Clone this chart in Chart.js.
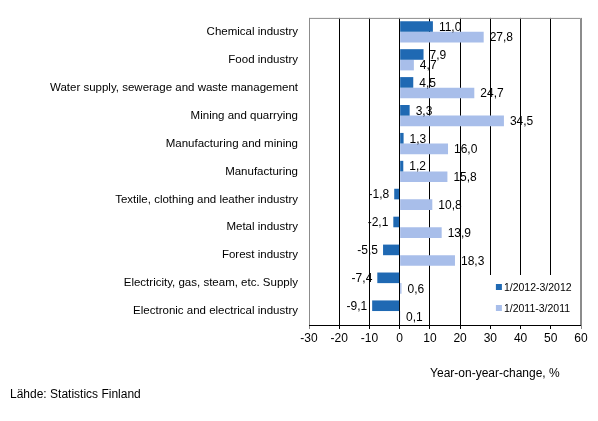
<!DOCTYPE html>
<html>
<head>
<meta charset="utf-8">
<script src="https://cdn.jsdelivr.net/npm/chart.js@4.4.1/dist/chart.umd.min.js"></script>
<style>
html,body{margin:0;padding:0;background:#fff;}
#wrap{width:598px;height:421px;position:relative;}
</style>
</head>
<body>
<div id="wrap"><canvas id="c" width="598" height="421"></canvas></div>
<script>
const categories = [
  "Chemical industry",
  "Food industry",
  "Water supply, sewerage and waste management",
  "Mining and quarrying",
  "Manufacturing and mining",
  "Manufacturing",
  "Textile, clothing and leather industry",
  "Metal industry",
  "Forest industry",
  "Electricity, gas, steam, etc. Supply",
  "Electronic and electrical industry"
];
const series2012 = [11.0, 7.9, 4.5, 3.3, 1.3, 1.2, -1.8, -2.1, -5.5, -7.4, -9.1];
const series2011 = [27.8, 4.7, 24.7, 34.5, 16.0, 15.8, 10.8, 13.9, 18.3, 0.6, 0.1];
const seriesNames = ["1/2012-3/2012", "1/2011-3/2011"];
const xMin = -30, xMax = 60, xStep = 10;
const axisTitle = "Year-on-year-change, %";
const sourceText = "Lähde: Statistics Finland";

const darkColor = "#1F69B3";
const lightColor = "#A8BEEA";
const FONT = "'Liberation Sans', Arial, sans-serif";

const fmt = v => v.toFixed(1).replace('.', ',');

const customPlugin = {
  id: 'custom',
  beforeDatasetsDraw(chart) {
    const ctx = chart.ctx, ca = chart.chartArea, xs = chart.scales.x;
    ctx.save();
    ctx.fillStyle = '#fff';
    const lx = xs.getPixelForValue(28.2);
    ctx.fillRect(lx, ca.bottom - 50, ca.right - lx, 50);
    ctx.restore();
  },
  afterDatasetsDraw(chart) {
    const ctx = chart.ctx;
    ctx.save();
    ctx.font = "12px " + FONT;
    ctx.fillStyle = '#000';
    ctx.textBaseline = 'middle';
    chart.data.datasets.forEach((ds, di) => {
      const meta = chart.getDatasetMeta(di);
      meta.data.forEach((bar, i) => {
        const v = ds.data[i];
        const t = fmt(v);
        if (v >= 0) {
          ctx.textAlign = 'left';
          ctx.fillText(t, bar.x + 6, bar.y + 1);
        } else {
          ctx.textAlign = 'right';
          ctx.fillText(t, bar.x - 5, bar.y + 1);
        }
      });
    });
    ctx.restore();
  },
  afterDraw(chart) {
    const ctx = chart.ctx, ca = chart.chartArea, xs = chart.scales.x;
    ctx.save();
    ctx.strokeStyle = '#8c8c8c';
    ctx.lineWidth = 1;
    ctx.beginPath();
    ctx.moveTo(ca.left + 0.5, ca.bottom);
    ctx.lineTo(ca.left + 0.5, ca.top + 0.5);
    ctx.lineTo(ca.right - 0.5, ca.top + 0.5);
    ctx.lineTo(ca.right - 0.5, ca.bottom);
    ctx.stroke();
    ctx.strokeStyle = '#000';
    ctx.beginPath();
    ctx.moveTo(ca.left, ca.bottom + 0.5);
    ctx.lineTo(ca.right, ca.bottom + 0.5);
    ctx.stroke();
    const lx = xs.getPixelForValue(28.2);
    const colors = [darkColor, lightColor];
    ctx.font = "10.5px " + FONT;
    ctx.textBaseline = 'middle';
    ctx.textAlign = 'left';
    seriesNames.forEach((n, i) => {
      const y = ca.bottom - 38 + i * 21;
      ctx.fillStyle = colors[i];
      ctx.fillRect(lx + 11, y - 3, 6, 6);
      ctx.fillStyle = '#000';
      ctx.fillText(n, lx + 19, y + 1);
    });
    ctx.font = "12px " + FONT;
    ctx.fillStyle = '#000';
    ctx.textAlign = 'center';
    ctx.fillText(axisTitle, xs.getPixelForValue(31.5), ca.bottom + 49);
    ctx.textAlign = 'left';
    ctx.fillText(sourceText, 10, ca.bottom + 70);
    ctx.restore();
  }
};

new Chart(document.getElementById('c'), {
  type: 'bar',
  data: {
    labels: categories,
    datasets: [
      { label: seriesNames[0], data: series2012, backgroundColor: darkColor, barPercentage: 1.0, categoryPercentage: 0.76 },
      { label: seriesNames[1], data: series2011, backgroundColor: lightColor, barPercentage: 1.0, categoryPercentage: 0.76 }
    ]
  },
  options: {
    indexAxis: 'y',
    responsive: false,
    animation: false,
    devicePixelRatio: 1,
    layout: { padding: { top: 17, right: 17, left: 0, bottom: 0 } },
    plugins: { legend: { display: false }, tooltip: { enabled: false } },
    scales: {
      x: {
        min: xMin, max: xMax,
        ticks: { stepSize: xStep, color: '#000', font: { family: FONT, size: 12 }, padding: 2 },
        grid: {
          color: ctx => (ctx.tick && (ctx.tick.value === xMin || ctx.tick.value === xMax)) ? '#8c8c8c' : '#000',
          lineWidth: 1,
          tickLength: 4,
          drawTicks: true
        },
        border: { display: false },
        afterFit(scale) { scale.height = 96; }
      },
      y: {
        ticks: { color: '#000', font: { family: FONT, size: 11.5 }, padding: 11, autoSkip: false },
        grid: { display: false, drawTicks: false },
        border: { display: false },
        afterFit(scale) { scale.width = 309; }
      }
    }
  },
  plugins: [customPlugin]
});
</script>
</body>
</html>
